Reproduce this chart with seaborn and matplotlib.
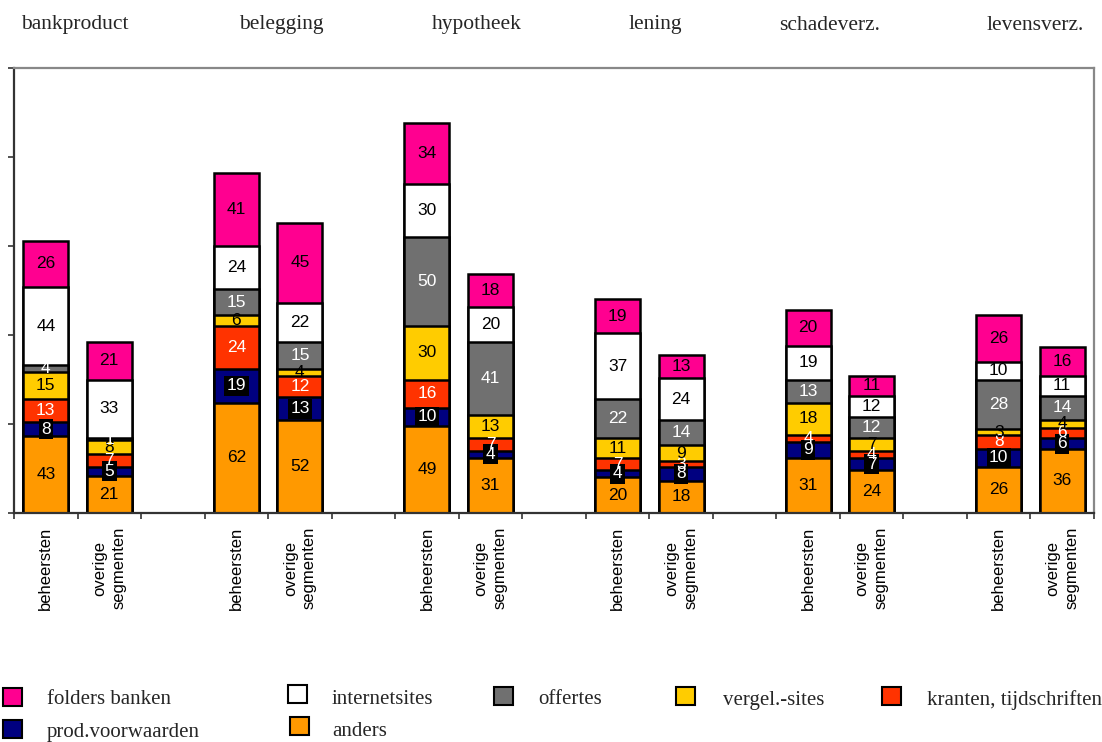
import numpy as np
import pandas as pd
import matplotlib
matplotlib.use("Agg")
import matplotlib.pyplot as plt
from matplotlib.patches import Rectangle
import seaborn as sns

# ---------------- data ----------------
categories = ['bankproduct', 'belegging', 'hypotheek', 'lening', 'schadeverz.', 'levensverz.']
segments = ['beheersten', 'overige\nsegmenten']

# one value per bar: (category, segment) in order
anders   = [43, 21, 62, 52, 49, 31, 20, 18, 31, 24, 26, 36]
prod     = [8, 5, 19, 13, 10, 4, 4, 8, 9, 7, 10, 6]
kranten  = [13, 7, 24, 12, 16, 7, 7, 3, 4, 4, 8, 6]
vergel   = [15, 8, 6, 4, 30, 13, 11, 9, 18, 7, 3, 4]
offertes = [4, 1, 15, 15, 50, 41, 22, 14, 13, 12, 28, 14]
internet = [44, 33, 24, 22, 30, 20, 37, 24, 19, 12, 10, 11]
folders  = [26, 21, 41, 45, 34, 18, 19, 13, 20, 11, 26, 16]

series_names = ['anders', 'prod.voorwaarden', 'kranten, tijdschriften', 'vergel.-sites',
                'offertes', 'internetsites', 'folders banken']
series_vals = [anders, prod, kranten, vergel, offertes, internet, folders]
series_colors = ['#FF9900', '#000080', '#FF3300', '#FFCC00', '#707070', '#FFFFFF', '#FF0090']
label_colors = ['black', 'white', 'white', 'black', 'white', 'black', 'black']

# ---------------- figure ----------------
W, H = 1102, 742
sns.set_theme(style="white")
plt.rcParams['font.family'] = ['Liberation Sans', 'DejaVu Sans']

fig = plt.figure(figsize=(W / 100, H / 100), dpi=100)
ax = fig.add_axes([14 / W, 229 / H, 1080 / W, 445 / H])

positions = []
for g in range(len(categories)):
    positions += [3 * g, 3 * g + 1]
positions = np.array(positions, dtype=float)

vals = np.array(series_vals, dtype=float)
cum = np.cumsum(vals, axis=0)

# draw cumulative bars from the top layer downwards
for k in range(len(series_vals) - 1, -1, -1):
    df = pd.DataFrame({'pos': positions, 'height': cum[k]})
    sns.barplot(data=df, x='pos', y='height', native_scale=True, width=0.71,
                color=series_colors[k], saturation=1, edgecolor='black',
                linewidth=1.8, errorbar=None, ax=ax)

# value labels
for k in range(len(series_vals)):
    for i, p in enumerate(positions):
        v = vals[k, i]
        yc = cum[k, i] - v / 2
        kw = {}
        if k == 1:
            kw['bbox'] = dict(facecolor='black', edgecolor='none', pad=1.8)
        ax.text(p, yc, f"{int(v)}", ha='center', va='center', fontsize=12.5,
                color=label_colors[k], family=['Liberation Sans', 'DejaVu Sans'], **kw)

ax.set_xlim(-0.5, 16.5)
ax.set_ylim(0, 250)
ax.set_xlabel('')
ax.set_ylabel('')

ax.set_xticks(positions)
ax.set_xticklabels(segments * len(categories), rotation=90, fontsize=12,
                   linespacing=1.35, multialignment='center')
ax.set_xticks(np.arange(-0.5, 17, 1), minor=True)
ax.tick_params(axis='x', which='major', length=0, pad=10, colors='black')
ax.tick_params(axis='x', which='minor', length=4, width=1.2, direction='out',
               color='#333333', bottom=True)
ax.set_yticks([0, 50, 100, 150, 200, 250])
ax.set_yticklabels([])
ax.tick_params(axis='y', which='major', length=4.5, width=1.2, direction='out',
               color='#333333', left=True)

for side in ['left', 'bottom']:
    ax.spines[side].set_color('#333333')
    ax.spines[side].set_linewidth(1.6)
for side in ['top', 'right']:
    ax.spines[side].set_color('#888888')
    ax.spines[side].set_linewidth(1.6)
ax.spines['top'].set_visible(True)
ax.spines['right'].set_visible(True)

# category titles at the top
title_x = [75, 281, 477, 655, 830, 1035]
for cat, tx in zip(categories, title_x):
    fig.text(tx / W, 1 - 25 / H, cat, ha='center', va='center', fontsize=15.5,
             family=['Liberation Serif', 'DejaVu Serif'])

# legend (manual, row-major as in the reference)
legend_items = [
    ('folders banken', '#FF0090', 3, 688, 47, 700),
    ('internetsites', '#FFFFFF', 288, 685, 332, 700),
    ('offertes', '#707070', 494, 687, 538, 700),
    ('vergel.-sites', '#FFCC00', 676, 687, 723, 700),
    ('kranten, tijdschriften', '#FF3300', 882, 687, 927, 700),
    ('prod.voorwaarden', '#000080', 3, 720, 47, 732),
    ('anders', '#FF9900', 290, 717, 332, 732),
]
for name, col, sx, sy, tx, ty in legend_items:
    fig.add_artist(Rectangle((sx / W, 1 - (sy + 18) / H), 19 / W, 18 / H,
                             transform=fig.transFigure, facecolor=col,
                             edgecolor='black', linewidth=1.5))
    fig.text(tx / W, 1 - ty / H, name, ha='left', va='center', fontsize=15,
             family=['Liberation Serif', 'DejaVu Serif'])

fig.savefig('out.png', dpi=100)
